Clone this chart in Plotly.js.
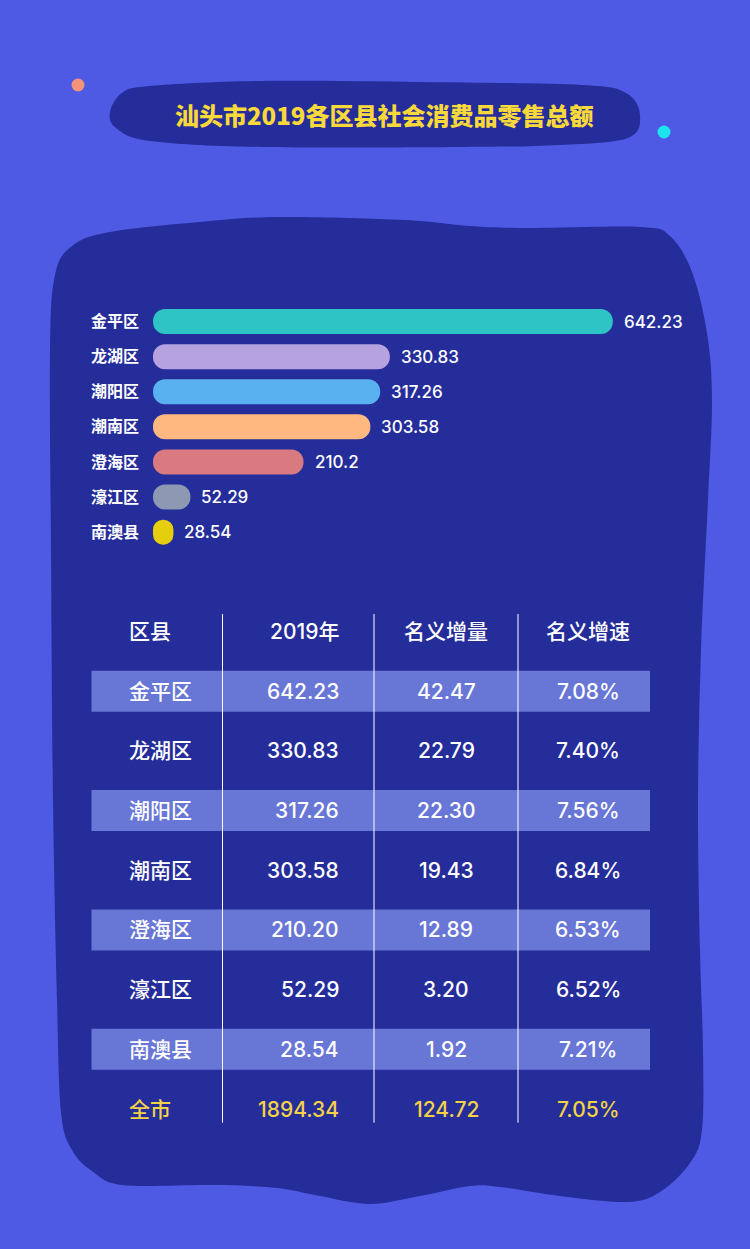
<!DOCTYPE html>
<html><head><meta charset="utf-8">
<script src="https://cdn.plot.ly/plotly-3.0.1.min.js"></script>
<style>html,body{margin:0;padding:0;background:#4E5AE4;}</style>
</head><body><div id="chart" style="width:750px;height:1249px;"></div>
<script>
// ---- data ----
const chartTitle = '汕头市2019各区县社会消费品零售总额';
const districts = ['金平区','龙湖区','潮阳区','潮南区','澄海区','濠江区','南澳县'];
const retail2019 = [642.23, 330.83, 317.26, 303.58, 210.2, 52.29, 28.54];
const barColors = ['#2EC4C6','#B5A2DE','#5AB1EF','#FFB980','#D87A80','#8D98B3','#E5CF0D'];
const tableHeader = ['区县','2019年','名义增量','名义增速'];
const table2019 = ['642.23','330.83','317.26','303.58','210.20','52.29','28.54'];
const tableIncrease = ['42.47','22.79','22.30','19.43','12.89','3.20','1.92'];
const tableGrowth = ['7.08%','7.40%','7.56%','6.84%','6.53%','6.52%','7.21%'];
const totalRow = ['全市','1894.34','124.72','7.05%'];

// ---- page geometry ----
const W = 750, H = 1249;
const BG = '#4E5AE4', PANEL = '#252D9B', BAND = '#6876D6';
const YEL = '#F3D246', TITLE_YEL = '#F9D93A';
const FONT = "Inter, 'Noto Sans CJK SC', sans-serif";
const px = (x, y) => (x / W).toFixed(5) + ',' + (1 - y / H).toFixed(5);

function smoothClosed(pts) {
  const n = pts.length;
  let d = 'M' + px(pts[0][0], pts[0][1]);
  for (let i = 0; i < n; i++) {
    const p0 = pts[(i - 1 + n) % n], p1 = pts[i], p2 = pts[(i + 1) % n], p3 = pts[(i + 2) % n];
    const c1 = [p1[0] + (p2[0] - p0[0]) / 6, p1[1] + (p2[1] - p0[1]) / 6];
    const c2 = [p2[0] - (p3[0] - p1[0]) / 6, p2[1] - (p3[1] - p1[1]) / 6];
    d += ' C' + px(c1[0], c1[1]) + ' ' + px(c2[0], c2[1]) + ' ' + px(p2[0], p2[1]);
  }
  return d + ' Z';
}

const blobPts = [
  [50,350],[55,275],[72,246],[110,232],[200,222],[280,217],[405,220],[470,226],[530,228],
  [640,227],[670,236],[692,272],[707,333],[712,400],[708,500],[701,650],[698,800],[700,950],
  [703,1050],[702,1130],[690,1163],[660,1192],[627,1202],[560,1196],[500,1187],[470,1186],
  [420,1196],[370,1204],[320,1196],[285,1189],[250,1186],[207,1185],[122,1185],[92,1171],
  [72,1150],[61,1112],[57,1000],[53,800],[51,550]
];
const pillPts = [
  [110,112],[122,93],[150,86],[261,81],[421,82],[582,85],[626,93],[640,115],[628,138],
  [560,145],[462,147],[261,147],[150,141],[116,128]
];

const shapes = [
  {type:'path', xref:'paper', yref:'paper', path: smoothClosed(blobPts), fillcolor: PANEL, line:{width:0}, layer:'below'},
  {type:'path', xref:'paper', yref:'paper', path: smoothClosed(pillPts), fillcolor: PANEL, line:{width:0}, layer:'below'},
  {type:'circle', xref:'paper', yref:'paper', x0:71.5/W, x1:84.5/W, y0:1-91.5/H, y1:1-78.5/H, fillcolor:'#F4937A', line:{width:0}, layer:'below'},
  {type:'circle', xref:'paper', yref:'paper', x0:657.5/W, x1:670.5/W, y0:1-138.5/H, y1:1-125.5/H, fillcolor:'#1DE3EE', line:{width:0}, layer:'below'}
];

// ---- table geometry (x2 is a pixel axis, y2 is row index) ----
const rows = [tableHeader];
for (let i = 0; i < districts.length; i++) rows.push([districts[i], table2019[i], tableIncrease[i], tableGrowth[i]]);
rows.push(totalRow);
const colX = [127, 341, 446, 588];
const colAnchor = ['left', 'right', 'center', 'center'];
const sepX = [222.5, 374, 518];

for (let r = 1; r <= districts.length; r += 2) {
  shapes.push({type:'rect', xref:'x2', yref:'y2', x0:91.5, x1:650, y0:r - 0.343, y1:r + 0.343,
    fillcolor: BAND, line:{width:0}, layer:'below'});
}
sepX.forEach(x => shapes.push({type:'line', xref:'x2', yref:'y2', x0:x, x1:x, y0:-0.293, y1:rows.length - 1 + 0.23,
  line:{color:'#FFFFFF', width:1}, layer:'below'}));

const annotations = [];
annotations.push({xref:'paper', yref:'paper', x:384/W, y:1 - 115/H, text: chartTitle, showarrow:false,
  xanchor:'center', yanchor:'middle', font:{family:"'Noto Sans CJK SC', sans-serif", size:24, color:TITLE_YEL, weight:900}});

retail2019.forEach((v, i) => annotations.push({xref:'x', yref:'y', x:v, y:districts[i], text:String(v),
  showarrow:false, xanchor:'left', yanchor:'middle', xshift:9, font:{family:FONT, size:17, color:'#FFFFFF', weight:500}}));

rows.forEach((row, r) => row.forEach((t, c) => annotations.push({xref:'x2', yref:'y2', x:colX[c], y:r, text:t,
  showarrow:false, xanchor:colAnchor[c], yanchor:'middle',
  font:{family:FONT, size:21, color: r === rows.length - 1 ? YEL : '#FFFFFF', weight:500}})));

const traces = [
  {type:'bar', orientation:'h', y:districts, x:retail2019, base:districts.map(() => 0),
   marker:{color:barColors, cornerradius:'50%', line:{width:0}},
   hoverinfo:'skip', textposition:'none', showlegend:false},
  {type:'scatter', mode:'markers', x:[0], y:[0], xaxis:'x2', yaxis:'y2', marker:{opacity:0}, hoverinfo:'skip', showlegend:false}
];

const layout = {
  width: W, height: H, margin:{l:0, r:0, t:0, b:0, pad:0},
  paper_bgcolor: BG, plot_bgcolor:'rgba(0,0,0,0)',
  barmode:'overlay', bargap:0.288, showlegend:false,
  xaxis:{domain:[153/W, 700/W], range:[0, 764], visible:false, fixedrange:true},
  yaxis:{domain:[1 - 549.7/H, 1 - 304/H], type:'category', categoryorder:'array', categoryarray:districts,
    range:[6.5, -0.5], showgrid:false, zeroline:false, showline:false, ticks:'', ticklabelstandoff:13,
    tickfont:{family:FONT, size:16, color:'#FFFFFF', weight:600}, fixedrange:true},
  xaxis2:{domain:[0,1], range:[0, W], anchor:'y2', visible:false, fixedrange:true},
  yaxis2:{domain:[1 - 1168.7/H, 1 - 571.8/H], range:[9, -1], anchor:'x2', visible:false, fixedrange:true},
  shapes: shapes, annotations: annotations
};

Plotly.newPlot('chart', traces, layout, {staticPlot:true, displayModeBar:false});
</script></body></html>
